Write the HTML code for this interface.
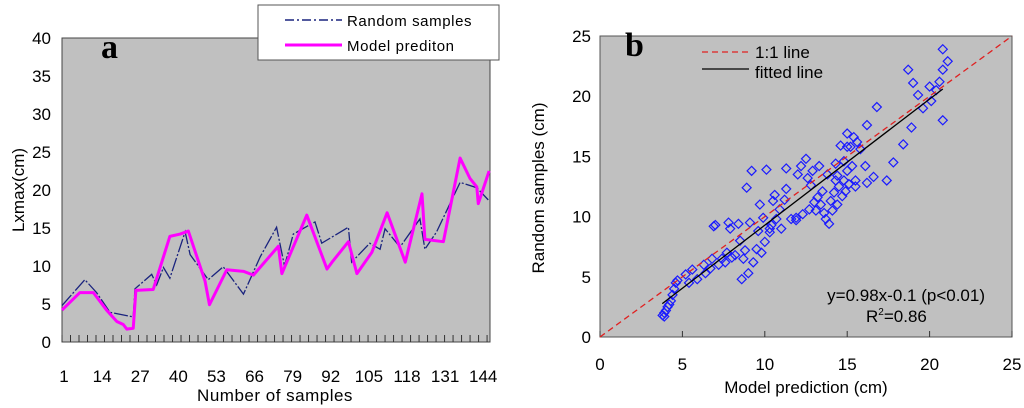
<!DOCTYPE html>
<html><head><meta charset="utf-8"><style>
html,body{margin:0;padding:0;background:#fff;width:1024px;height:408px;overflow:hidden}
svg{display:block;font-family:"Liberation Sans",sans-serif}
</style></head><body>
<svg id="chart" width="1024" height="408" viewBox="0 0 1024 408" xmlns="http://www.w3.org/2000/svg">
<rect x="62" y="38" width="428" height="304" fill="#c0c0c0" stroke="#444" stroke-width="1"/>
<rect x="600" y="36" width="412" height="301" fill="#c0c0c0" stroke="#555" stroke-width="1"/>
<g id="gA"></g>
<g id="gB"></g>
<text x="101" y="58" font-family="Liberation Serif,serif" font-weight="bold" font-size="34">a</text>
<text x="625" y="56" font-family="Liberation Serif,serif" font-weight="bold" font-size="34">b</text>
<text transform="translate(24,190) rotate(-90)" text-anchor="middle" font-size="17">Lxmax(cm)</text>
<text x="275" y="401" text-anchor="middle" font-size="17" letter-spacing="0.5">Number of samples</text>
<text transform="translate(544,188) rotate(-90)" text-anchor="middle" font-size="17">Random samples (cm)</text>
<text x="806" y="393" text-anchor="middle" font-size="17">Model prediction (cm)</text>
<g>
<rect x="258" y="5" width="241" height="55" fill="#fff" stroke="#555" stroke-width="1"/>
<line x1="285" y1="20" x2="342" y2="20" stroke="#1a237e" stroke-width="1.5" stroke-dasharray="9,3,2,3"/>
<text x="347" y="26" font-size="15" letter-spacing="0.6">Random samples</text>
<line x1="285" y1="45" x2="342" y2="45" stroke="#ff00ff" stroke-width="3"/>
<text x="347" y="51" font-size="15" letter-spacing="0.6">Model prediton</text>
</g>
<g>
<line x1="702" y1="52" x2="749" y2="52" stroke="#e02020" stroke-width="1.3" stroke-dasharray="6,4"/>
<text x="755" y="58" font-size="17">1:1 line</text>
<line x1="702" y1="69" x2="749" y2="69" stroke="#000" stroke-width="1.2"/>
<text x="755" y="78" font-size="17">fitted line</text>
</g>
<text x="985" y="301" text-anchor="end" font-size="17">y=0.98x-0.1 (p&lt;0.01)</text>
<text x="866" y="322" font-size="17">R<tspan font-size="10" dy="-7">2</tspan><tspan dy="7">=0.86</tspan></text>
</svg>
<script>
// Panel a data
const randSamples=[1,8.8,12.8,17.4,25.3,25.9,31.6,33.3,35.6,37.8,43,44.7,50.9,56,62.9,68.6,74.2,76.9,79.9,87.3,89.6,98.7,99.8,106,109.5,111.2,116.3,123.1,124.8,128.8,136.8,142.5,146.4];
const randValues=[4.8,8.2,6.5,3.9,3.3,7.0,8.9,7.5,9.8,8.4,14.5,11.5,8.2,9.9,6.3,11.2,15.1,10.0,14.2,15.8,13.0,15.1,10.5,13.0,12.2,14.9,12.5,16.2,12.2,14.5,21.0,20.3,18.7];
const modelSamples=[1,7.1,11.7,16.2,19.7,21.9,23.1,25.3,26.2,32.1,37.8,41.3,44.1,49.8,51.3,57.2,62.9,66.3,74.8,76,84.5,91.4,93.1,98.7,101.6,106.7,111.9,118.1,123.8,124.8,131.1,136.8,140.2,142.5,143,146.7];
const modelValues=[4.2,6.5,6.5,4.2,2.7,2.3,1.7,1.8,6.8,6.9,13.9,14.2,14.6,8.0,4.9,9.5,9.3,8.8,12.6,9.0,16.7,9.6,10.5,13.2,9.0,11.8,17.0,10.5,19.5,13.5,13.2,24.2,21.5,20.4,18.2,22.5];
const yTicksA=[0,5,10,15,20,25,30,35,40];
const xTicksA=[1,14,27,40,53,66,79,92,105,118,131,144];
// Panel b data
const predX=[3.8,3.9,3.9,4.0,4.1,4.2,4.3,4.4,4.5,4.6,4.7,5.2,5.4,5.6,5.9,6.3,6.4,6.7,6.8,6.9,7.0,7.2,7.4,7.6,7.7,7.8,7.9,8.0,8.2,8.4,8.5,8.6,8.7,8.8,8.9,9.0,9.1,9.2,9.3,9.5,9.7,9.8,9.9,10.0,10.1,10.3,10.4,10.5,10.6,10.7,10.9,11.0,11.2,11.3,11.3,11.6,11.9,12.0,12.2,12.3,12.5,12.6,12.7,12.8,12.9,13.1,13.2,13.3,13.4,13.5,13.6,13.7,13.8,13.9,14.0,14.1,14.2,14.3,14.4,14.4,14.5,14.6,14.7,14.8,14.8,14.9,15.0,15.0,15.1,15.2,15.3,15.4,15.5,15.5,15.6,15.8,16.1,16.2,16.2,16.6,16.8,17.4,17.8,18.4,18.7,18.9,19.0,19.3,19.6,20.0,20.1,20.4,20.6,20.8,20.8,20.8,21.1,15.0,14.3,13.0,11.9,9.6,10.3];
const obsY=[1.8,2.0,1.7,2.2,2.5,2.7,3.0,3.5,4.0,4.5,4.7,5.2,4.5,5.6,4.8,6.0,5.3,5.7,6.5,9.2,9.3,6.0,6.5,6.2,7.0,9.5,9.0,6.6,6.8,9.4,8.0,4.8,6.5,7.2,12.4,5.3,9.5,13.8,6.2,7.3,11.0,7.0,9.9,7.9,13.9,8.7,9.3,11.3,11.8,9.8,10.6,9.0,11.4,12.3,14.0,9.8,9.9,13.5,14.2,10.2,14.8,13.2,10.6,12.6,13.8,10.5,11.6,14.2,11.0,12.1,10.3,9.8,13.5,9.4,11.3,10.5,12.0,14.4,11.0,13.4,12.5,15.9,11.7,13.0,14.6,12.1,16.9,13.8,12.7,15.8,14.2,16.6,13.0,12.5,16.2,15.6,14.2,12.8,17.6,13.3,19.1,13.0,14.5,16.0,22.2,17.4,21.1,20.1,19.0,20.8,19.6,20.5,21.2,22.2,23.9,18.0,22.9,15.8,13.0,11.2,9.7,8.8,9.0];
const fitX=[3.78,20.8];
const fitY=[2.77,20.6];
const oneX=[0,25];
const ticksB=[0,5,10,15,20,25];

const NS='http://www.w3.org/2000/svg';
function mk(tag,attrs,parent){const e=document.createElementNS(NS,tag);for(const k in attrs)e.setAttribute(k,attrs[k]);parent.appendChild(e);return e;}
const xA=s=>62+(s-1)*(428/146);
const yA=v=>342-v*7.6;
const gA=document.getElementById('gA');
yTicksA.forEach(t=>{
  const tx=mk('text',{x:51,y:yA(t)+6,'text-anchor':'end','font-size':17},gA);
  
  
  tx.textContent=t;
});
for(let s=1;s<=147;s+=2.9){
  const l=mk('line',{x1:xA(s),x2:xA(s),y1:335,y2:342,stroke:'#333','stroke-width':1},gA);
  
  
}
xTicksA.forEach(t=>{
  const tx=mk('text',{x:xA(t)+2,y:382,'text-anchor':'middle','font-size':17},gA);
  
  
  tx.textContent=t;
});
const rp=mk('polyline',{points:randSamples.map((s,i)=>xA(s)+','+yA(randValues[i])).join(' '),fill:'none',stroke:'#1a237e','stroke-width':1.3,'stroke-dasharray':'14,2,2,2'},gA);


const mp=mk('polyline',{points:modelSamples.map((s,i)=>xA(s)+','+yA(modelValues[i])).join(' '),fill:'none',stroke:'#ff00ff','stroke-width':3,'stroke-linejoin':'round'},gA);


const xB=v=>600+v*16.48;
const yB=v=>337-v*12.04;
const gB=document.getElementById('gB');
ticksB.forEach(t=>{
  const ty=mk('text',{x:591,y:yB(t)+6,'text-anchor':'end','font-size':17},gB);
  
  
  ty.textContent=t;
  const tx=mk('text',{x:xB(t),y:370,'text-anchor':'middle','font-size':17},gB);
  
  
  tx.textContent=t;
  const m=mk('line',{x1:xB(t),x2:xB(t),y1:331,y2:337,stroke:'#333'},gB);
  
  
});
predX.forEach((x,i)=>{
  const cx=xB(x),cy=yB(obsY[i]);
  const p=mk('polygon',{points:`${cx},${cy-4.5} ${cx+4.5},${cy} ${cx},${cy+4.5} ${cx-4.5},${cy}`,fill:'none',stroke:'#1a1aff','stroke-width':1.2},gB);
  
  
});
const ol=mk('line',{x1:xB(oneX[0]),y1:yB(oneX[0]),x2:xB(oneX[1]),y2:yB(oneX[1]),stroke:'#e02020','stroke-width':1.3,'stroke-dasharray':'6,4'},gB);


const fl=mk('line',{x1:xB(fitX[0]),y1:yB(fitY[0]),x2:xB(fitX[1]),y2:yB(fitY[1]),stroke:'#000','stroke-width':1.3},gB);


</script>
</body></html>
